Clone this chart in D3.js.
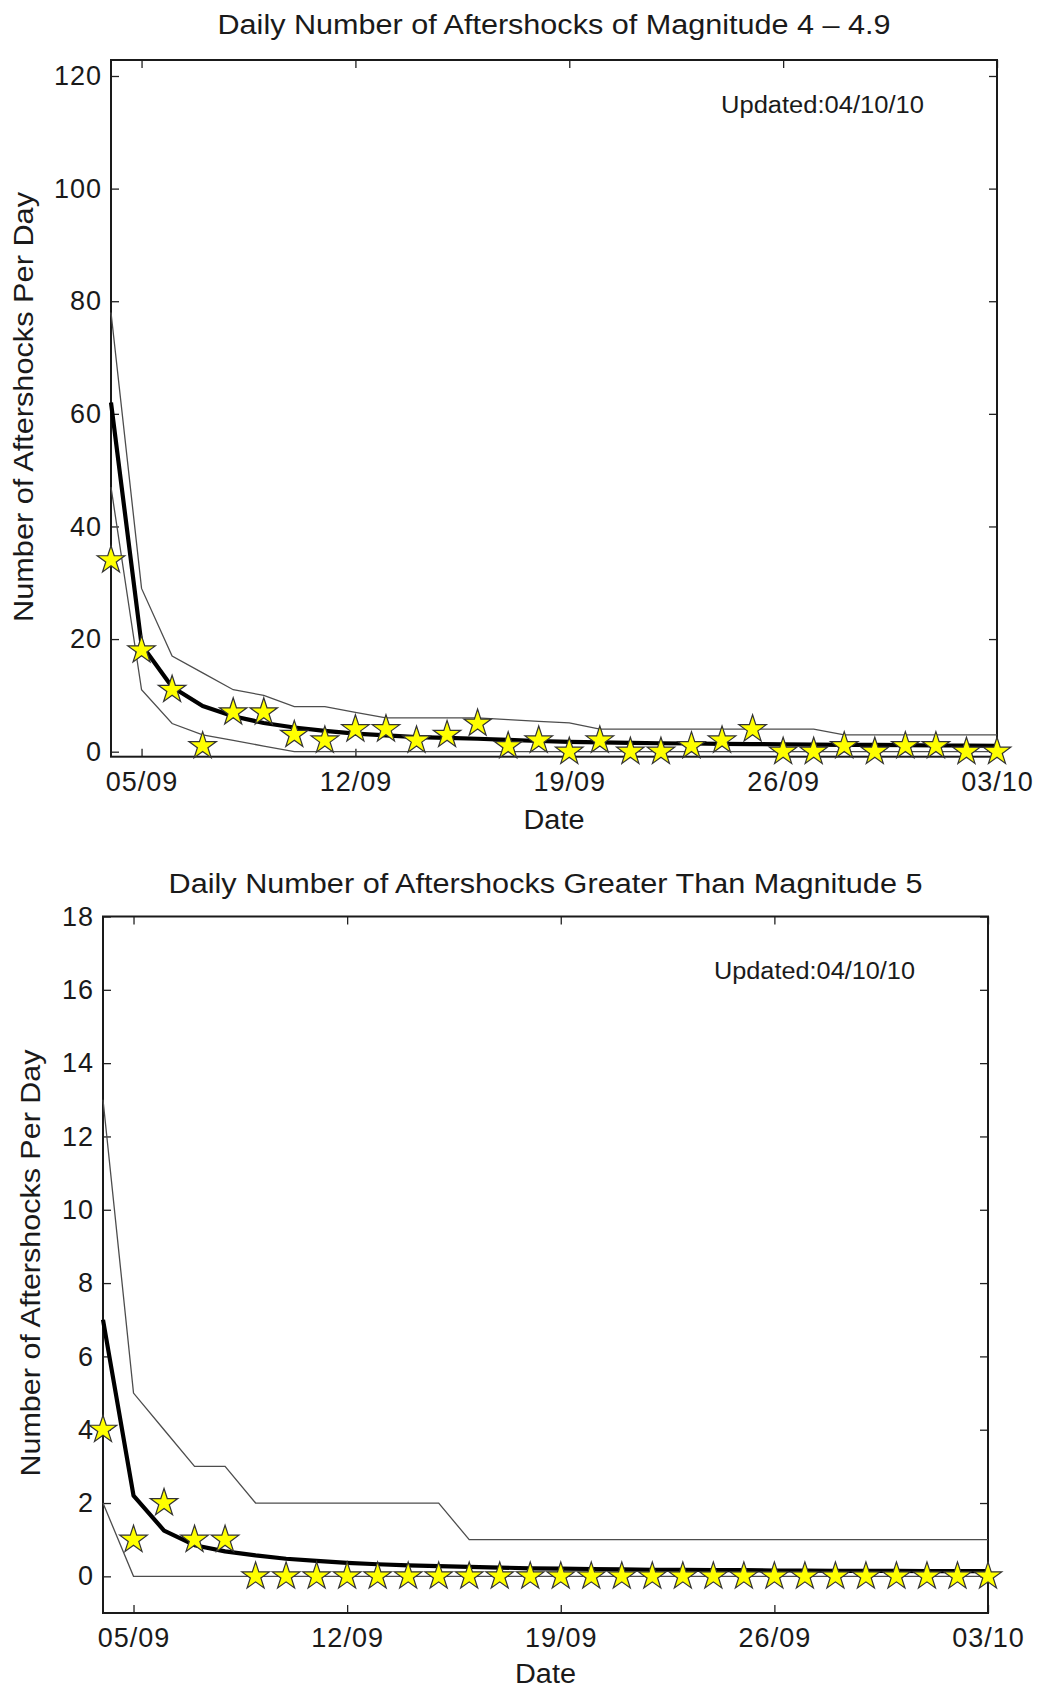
<!DOCTYPE html>
<html><head><meta charset="utf-8">
<script src="https://cdn.jsdelivr.net/npm/d3@7"></script>
<style>
body{margin:0;background:#fff}
svg{display:block}
text{font-family:"Liberation Sans",Arial,Helvetica,sans-serif;fill:#1a1a1a}
</style>
</head><body>
<svg id="chart" width="1040" height="1688"></svg>
<script>
// ---------- data ----------
const days = ["04/09","05/09","06/09","07/09","08/09","09/09","10/09","11/09","12/09","13/09",
              "14/09","15/09","16/09","17/09","18/09","19/09","20/09","21/09","22/09","23/09",
              "24/09","25/09","26/09","27/09","28/09","29/09","30/09","01/10","02/10","03/10"];
const xTickLabels = ["05/09","12/09","19/09","26/09","03/10"];
const m4YTicks = [0,20,40,60,80,100,120];
const m5YTicks = [0,2,4,6,8,10,12,14,16,18];

// Magnitude 4 - 4.9
const m4Observed = [34,18,11,1,7,7,3,2,4,4,2,3,5,1,2,0,2,0,0,1,2,4,0,0,1,0,1,1,0,0];
const m4Expected = [62,19,11.5,8.1,6.3,5.1,4.3,3.7,3.2,2.9,2.6,2.45,2.3,2.1,1.9,1.75,1.65,1.55,1.5,1.45,1.4,1.35,1.3,1.25,1.2,1.2,1.15,1.1,1.1,1.05];
const m4Upper    = [78,29,17,14,11,10,8,8,7,6,6,6,6,5.7,5.4,5.1,4,4,4,4,4,4,4,4,3,3,3,3,3,3];
const m4Lower    = [47,11,5,3,2,1,0,0,0,0,0,0,0,0,0,0,0,0,0,0,0,0,0,0,0,0,0,0,0,0];

// Magnitude >= 5
const m5Observed = [4,1,2,1,1,0,0,0,0,0,0,0,0,0,0,0,0,0,0,0,0,0,0,0,0,0,0,0,0,0];
const m5Expected = [7,2.2,1.25,0.85,0.68,0.57,0.48,0.42,0.37,0.33,0.3,0.28,0.26,0.24,0.22,0.21,0.2,0.19,0.18,0.18,0.17,0.17,0.16,0.16,0.15,0.15,0.15,0.14,0.14,0.14];
const m5Upper    = [13,5,4,3,3,2,2,2,2,2,2,2,1,1,1,1,1,1,1,1,1,1,1,1,1,1,1,1,1,1];
const m5Lower    = [2,0,0,0,0,0,0,0,0,0,0,0,0,0,0,0,0,0,0,0,0,0,0,0,0,0,0,0,0,0];

const titleM4 = "Daily Number of Aftershocks of Magnitude 4 \u2013 4.9";
const titleM5 = "Daily Number of Aftershocks Greater Than Magnitude 5";
const yLabel = "Number of Aftershocks Per Day";
const xLabel = "Date";
const updated = "Updated:04/10/10";

// ---------- drawing ----------
const parse = d3.timeParse("%d/%m/%Y");
const toDate = s => parse(s + (s.endsWith("/10") && s.startsWith("0") && +s.slice(0,2) < 10 && s.slice(3)==="10" ? "/2010" : "/2010"));
const svg = d3.select("#chart");

function panel(cfg) {
  const {left,right,top,bottom,yDomain,yTicks,observed,expected,upper,lower,title,
         titleY,titleLen,yLabX,yLabY,yLabLen,dateY,updX,updY,updLen} = cfg;
  const x = d3.scaleTime().domain([toDate(days[0]), toDate(days[days.length-1])]).range([left,right]);
  const y = d3.scaleLinear().domain(yDomain).range([bottom,top]);
  const g = svg.append("g");
  const tickVals = xTickLabels.map(toDate);
  const fmt = d3.timeFormat("%d/%m");

  // bottom axis
  const ax = g.append("g").attr("transform",`translate(0,${bottom})`)
    .call(d3.axisBottom(x).tickValues(tickVals).tickFormat(fmt).tickSize(-8).tickSizeOuter(0).tickPadding(15));
  // top axis (ticks only)
  const axT = g.append("g").attr("transform",`translate(0,${top})`)
    .call(d3.axisTop(x).tickValues(tickVals).tickFormat("").tickSize(-8).tickSizeOuter(0));
  // left axis
  const ay = g.append("g").attr("transform",`translate(${left},0)`)
    .call(d3.axisLeft(y).tickValues(yTicks).tickFormat(d3.format("d")).tickSize(-8).tickSizeOuter(0).tickPadding(9));
  // right axis
  const ayR = g.append("g").attr("transform",`translate(${right},0)`)
    .call(d3.axisRight(y).tickValues(yTicks).tickFormat("").tickSize(-8).tickSizeOuter(0));
  [ax,axT,ay,ayR].forEach(a=>{
    a.select(".domain").remove();
    a.selectAll(".tick line").attr("stroke","#222").attr("stroke-width",1.3);
    a.selectAll("text").attr("font-size",27).attr("letter-spacing",1).attr("fill","#1a1a1a")
      .style("font-family","'Liberation Sans',Arial,sans-serif");
  });

  // box
  g.append("rect").attr("x",left).attr("y",top).attr("width",right-left).attr("height",bottom-top)
    .attr("fill","none").attr("stroke","#1a1a1a").attr("stroke-width",2);

  const line = arr => d3.line().x((d,i)=>x(toDate(days[i]))).y(d=>y(d))(arr);
  g.append("path").attr("d",line(upper)).attr("fill","none").attr("stroke","#4d4d4d").attr("stroke-width",1.3);
  g.append("path").attr("d",line(lower)).attr("fill","none").attr("stroke","#4d4d4d").attr("stroke-width",1.3);
  g.append("path").attr("d",line(expected)).attr("fill","none").attr("stroke","#000").attr("stroke-width",4.2)
    .attr("stroke-linejoin","round");

  const star = d3.symbol().type(d3.symbolStar).size(235)();
  g.selectAll(".star").data(observed).join("path").attr("class","star")
    .attr("d",star)
    .attr("transform",(d,i)=>`translate(${x(toDate(days[i]))},${y(d)})`)
    .attr("fill","#ffff00").attr("stroke","#333").attr("stroke-width",1.2).attr("stroke-linejoin","miter");

  // texts
  g.append("text").attr("x",(left+right)/2).attr("y",titleY).attr("text-anchor","middle")
    .attr("font-size",27).attr("textLength",titleLen).attr("lengthAdjust","spacingAndGlyphs").text(title);
  g.append("text").attr("transform",`translate(${yLabX},${yLabY}) rotate(-90)`).attr("text-anchor","middle")
    .attr("font-size",27).attr("textLength",yLabLen).attr("lengthAdjust","spacingAndGlyphs").text(yLabel);
  g.append("text").attr("x",(left+right)/2).attr("y",dateY).attr("text-anchor","middle")
    .attr("font-size",27).attr("textLength",61).attr("lengthAdjust","spacingAndGlyphs").text(xLabel);
  g.append("text").attr("x",updX).attr("y",updY)
    .attr("font-size",23).attr("textLength",updLen).attr("lengthAdjust","spacingAndGlyphs").text(updated);
}

panel({left:111,right:997,top:60,bottom:756.7,yDomain:[-0.89,122.84],yTicks:m4YTicks,
  observed:m4Observed,expected:m4Expected,upper:m4Upper,lower:m4Lower,title:titleM4,
  titleY:34,titleLen:673,yLabX:33,yLabY:407,yLabLen:430,dateY:829,updX:721,updY:113,updLen:203});
panel({left:103,right:988,top:916.5,bottom:1613,yDomain:[-1,18],yTicks:m5YTicks,
  observed:m5Observed,expected:m5Expected,upper:m5Upper,lower:m5Lower,title:titleM5,
  titleY:893,titleLen:754,yLabX:40,yLabY:1263,yLabLen:427,dateY:1683,updX:714,updY:979,updLen:201});
</script>
</body></html>
